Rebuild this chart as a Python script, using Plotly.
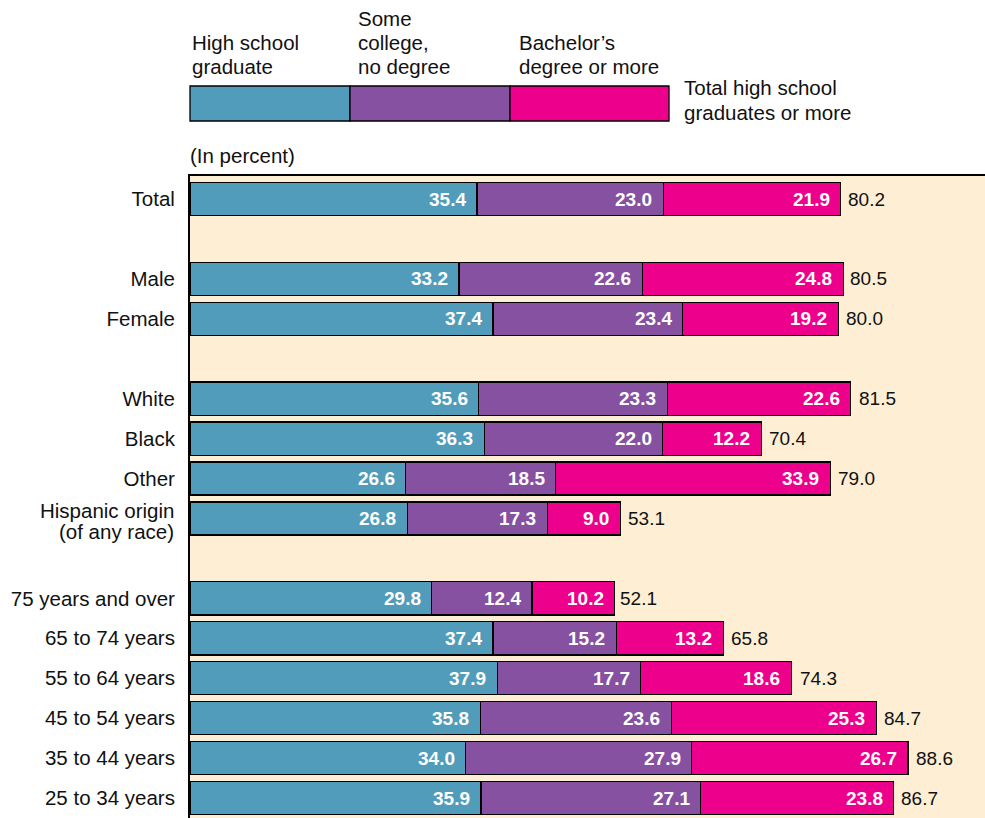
import plotly.graph_objects as go

# Educational attainment, people 25 years and over (percent)
groups = [
    ["Total"],
    ["Male", "Female"],
    ["White", "Black", "Other", "Hispanic origin\n(of any race)"],
    ["75 years and over", "65 to 74 years", "55 to 64 years",
     "45 to 54 years", "35 to 44 years", "25 to 34 years"],
]

high_school = [35.4, 33.2, 37.4, 35.6, 36.3, 26.6, 26.8,
               29.8, 37.4, 37.9, 35.8, 34.0, 35.9]
some_college = [23.0, 22.6, 23.4, 23.3, 22.0, 18.5, 17.3,
                12.4, 15.2, 17.7, 23.6, 27.9, 27.1]
bachelors = [21.9, 24.8, 19.2, 22.6, 12.2, 33.9, 9.0,
             10.2, 13.2, 18.6, 25.3, 26.7, 23.8]
total_hs_or_more = [80.2, 80.5, 80.0, 81.5, 70.4, 79.0, 53.1,
                    52.1, 65.8, 74.3, 84.7, 88.6, 86.7]

series_names = ["High school graduate", "Some college, no degree",
                "Bachelor's degree or more"]
colors = ["#519CBA", "#8651A0", "#EC008C"]
bg = "#FDEED4"
font_family = "Liberation Sans, Arial, sans-serif"
num_size = 19
word_size = 20.5
ink = "#111"

# One empty row between groups
categories, rows = [], []
pos = 0
for g in groups:
    for c in g:
        categories.append(c)
        rows.append(pos)
        pos += 1
    pos += 1

fig = go.Figure()
series = [high_school, some_college, bachelors]
for name, vals, col in zip(series_names, series, colors):
    fig.add_trace(go.Bar(
        y=rows, x=vals, orientation="h", name=name,
        marker=dict(color=col, line=dict(color="black", width=1.3)),
        width=0.83, hoverinfo="x+name",
    ))

annotations = []
# White value labels at the right end of each segment, totals past the bar
for i, r in enumerate(rows):
    cum = 0.0
    for vals in series:
        cum += vals[i]
        annotations.append(dict(
            x=cum, y=r, xref="x", yref="y", text=f"<b>{vals[i]:.1f}</b>",
            showarrow=False, xanchor="right", yanchor="middle", xshift=-9,
            font=dict(family=font_family, size=num_size, color="white"),
        ))
    annotations.append(dict(
        x=total_hs_or_more[i], y=r, xref="x", yref="y",
        text=f"{total_hs_or_more[i]:.1f}", showarrow=False,
        xanchor="left", yanchor="middle", xshift=6,
        font=dict(family=font_family, size=num_size, color=ink),
    ))

# Category labels; two-line labels set with tight leading
tick_text = []
for c, r in zip(categories, rows):
    lines = c.split("\n")
    if len(lines) == 1:
        tick_text.append(c)
        continue
    tick_text.append("")
    for k, line in enumerate(lines):
        annotations.append(dict(
            x=0, y=r, xref="paper", yref="y", text=line, showarrow=False,
            xanchor="right", yanchor="middle", xshift=-14,
            yshift=8 - 21 * k,
            font=dict(family=font_family, size=word_size, color=ink),
        ))

# Key above the chart
W, H, L, T = 985, 818, 190, 176
pw, ph = W - L, H - T


def px(xp):
    return (xp - L) / pw


def py(yp):
    return (H - yp) / ph


shapes = []
key_edges = [190, 350, 510, 669]
for k, col in enumerate(colors):
    shapes.append(dict(
        type="rect", xref="paper", yref="paper",
        x0=px(key_edges[k]), x1=px(key_edges[k + 1]), y0=py(121), y1=py(86),
        fillcolor=col, line=dict(color="black", width=1.3), layer="above",
    ))

key_texts = [
    (["High school", "graduate"], 190, 42),
    (["Some", "college,", "no degree"], 356, 18),
    (["Bachelor’s", "degree or more"], 517, 42),
    (["Total high school", "graduates or more"], 682, 88),
    (["(In percent)"], 188, 155),
]
for lines, xx, yy in key_texts:
    for k, line in enumerate(lines):
        annotations.append(dict(
            x=px(xx), y=py(yy + 24 * k), xref="paper", yref="paper",
            text=line, showarrow=False, xanchor="left", yanchor="middle",
            font=dict(family=font_family, size=word_size, color=ink),
        ))

fig.update_layout(
    width=W, height=H, barmode="stack", showlegend=False,
    margin=dict(l=L, r=0, t=T, b=0, pad=0),
    paper_bgcolor="white", plot_bgcolor=bg,
    font=dict(family=font_family, size=word_size, color=ink),
    annotations=annotations, shapes=shapes,
    xaxis=dict(range=[0, pw / 8.105], showgrid=False, zeroline=False,
               showticklabels=False, ticks="", side="top",
               showline=True, linecolor="black", linewidth=2),
    yaxis=dict(range=[rows[-1] + 0.5, -0.576], tickvals=rows,
               ticktext=tick_text, showgrid=False, zeroline=False,
               ticks="outside", ticklen=9, tickcolor="rgba(0,0,0,0)",
               showline=True, linecolor="black", linewidth=2,
               tickfont=dict(family=font_family, size=word_size, color=ink)),
)

fig.write_html("out.html")
